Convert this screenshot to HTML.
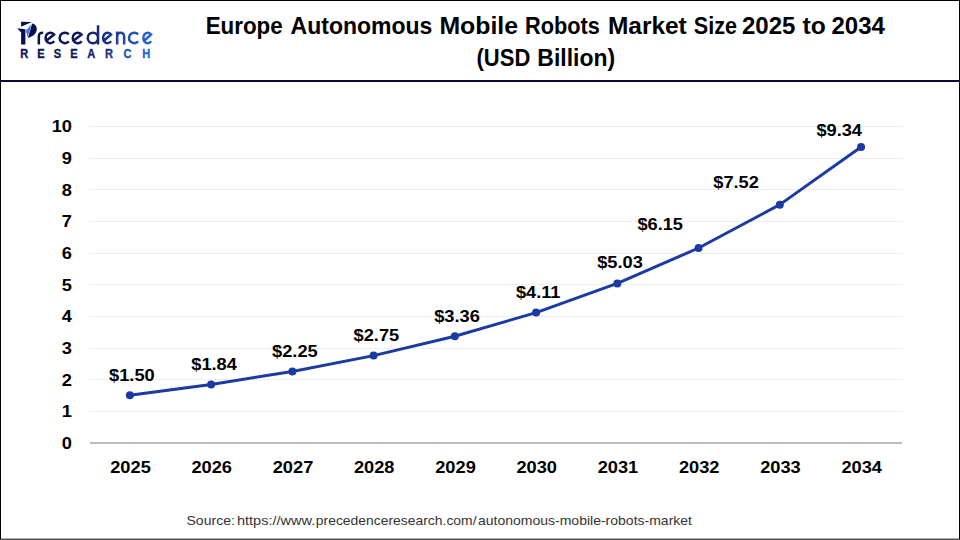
<!DOCTYPE html>
<html><head><meta charset="utf-8">
<style>
html,body{margin:0;padding:0;background:#fff;}
body{width:960px;height:540px;overflow:hidden;position:relative;}
svg{position:absolute;left:0;top:0;}
text{font-family:"Liberation Sans",sans-serif;}
.b{font-weight:bold;font-size:16px;fill:#000;}
.t{font-weight:bold;font-size:23px;fill:#000;}
.s{font-size:12.5px;fill:#333;}
.r{font-weight:bold;font-size:12.6px;}
</style></head><body>
<svg width="960" height="540" viewBox="0 0 960 540">
<rect x="0" y="0" width="960" height="540" fill="#fff"/>

<defs>
<linearGradient id="lg" gradientUnits="userSpaceOnUse" x1="36" y1="0" x2="154" y2="0">
<stop offset="0" stop-color="#0c1152"/><stop offset="0.35" stop-color="#0e165e"/><stop offset="0.6" stop-color="#1a3089"/><stop offset="1" stop-color="#2b6cd8"/>
</linearGradient>
</defs>
<g fill="#0c1050">
<polygon points="21.1,21.8 32.0,21.9 21.1,26.8"/>
<polygon points="17.1,28.2 25.4,29.3 25.4,44.5 21.1,44.5 21.1,32.4"/>
<path d="M32.2,23.4 C38.6,24.6 39.2,35.0 27.8,37.9 Z"/>
</g>
<polygon points="31.9,24.0 25.8,30.6 27.6,37.0" fill="#3b7de2"/>
<g fill="none" stroke="url(#lg)" stroke-width="2.5"><path d="M38.85,44.4 V36.40 C38.85,32.90 40.85,32.65 43.20,32.65"/><path d="M46.33,40.76 L54.12,34.53 A4.85,5.25 0 1 0 54.22,41.13"/><path d="M68.80,34.39 A5.25,5.25 0 1 0 68.80,41.41"/><path d="M73.56,40.76 L81.58,34.53 A5.00,5.25 0 1 0 81.69,41.13"/><path d="M87.75,37.90 A5.15,5.25 0 1 0 98.05,37.90 A5.15,5.25 0 1 0 87.75,37.90 M98.05,25.2 V44.4"/><path d="M103.78,40.76 L111.09,34.53 A4.55,5.25 0 1 0 111.19,41.13"/><path d="M117.15,31.4 V44.4 M117.15,44.4 V36.15 A3.50,3.50 0 0 1 124.15,36.15 V44.4"/><path d="M138.15,34.39 A5.25,5.25 0 1 0 138.15,41.41"/><path d="M144.06,40.76 L151.12,34.53 A4.40,5.25 0 1 0 151.22,41.13"/></g><text transform="translate(24.25,57.9) scale(0.88,1)" text-anchor="middle" class="r" fill="#0e1352" stroke="#0e1352" stroke-width="0.35">R</text><text transform="translate(41,57.9) scale(0.88,1)" text-anchor="middle" class="r" fill="#0e1352" stroke="#0e1352" stroke-width="0.35">E</text><text transform="translate(57.5,57.9) scale(0.88,1)" text-anchor="middle" class="r" fill="#0e1352" stroke="#0e1352" stroke-width="0.35">S</text><text transform="translate(73.9,57.9) scale(0.88,1)" text-anchor="middle" class="r" fill="#101860" stroke="#101860" stroke-width="0.35">E</text><text transform="translate(91.2,57.9) scale(0.88,1)" text-anchor="middle" class="r" fill="#14206e" stroke="#14206e" stroke-width="0.35">A</text><text transform="translate(108.95,57.9) scale(0.88,1)" text-anchor="middle" class="r" fill="#1a3388" stroke="#1a3388" stroke-width="0.35">R</text><text transform="translate(127.4,57.9) scale(0.88,1)" text-anchor="middle" class="r" fill="#2152b8" stroke="#2152b8" stroke-width="0.35">C</text><text transform="translate(146.2,57.9) scale(0.88,1)" text-anchor="middle" class="r" fill="#2763d2" stroke="#2763d2" stroke-width="0.35">H</text>
<text transform="translate(205.63,34) scale(0.9731,1)" class="t">Europe</text>
<text transform="translate(290.60,34) scale(0.9993,1)" class="t">Autonomous</text>
<text transform="translate(439.42,34) scale(1.0803,1)" class="t">Mobile</text>
<text transform="translate(525.06,34) scale(0.9449,1)" class="t">Robots</text>
<text transform="translate(607.94,34) scale(1.0630,1)" class="t">Market</text>
<text transform="translate(693.76,34) scale(0.9386,1)" class="t">Size</text>
<text transform="translate(741.95,34) scale(1.0460,1)" class="t">2025</text>
<text transform="translate(802.50,34) scale(1.0714,1)" class="t">to</text>
<text transform="translate(831.46,34) scale(1.0440,1)" class="t">2034</text>
<text transform="translate(476.54,65.6) scale(0.9574,1)" class="t">(USD</text>
<text transform="translate(537.30,65.6) scale(0.9987,1)" class="t">Billion)</text>
<text transform="translate(186.48,525) scale(1.1244,1)" class="s">Source:</text>
<text transform="translate(236.94,525) scale(1.1621,1)" class="s">https://www.</text>
<text transform="translate(315.79,525) scale(1.1125,1)" class="s">precedenceresearch.com/</text>
<text transform="translate(478.00,525) scale(1.1209,1)" class="s">autonomous-mobile-robots-market</text>
<rect x="0" y="80" width="960" height="2" fill="#0a0a35"/>
<line x1="89" y1="411.5" x2="903" y2="411.5" stroke="#ededed" stroke-width="1"/>
<line x1="89" y1="379.5" x2="903" y2="379.5" stroke="#ededed" stroke-width="1"/>
<line x1="89" y1="348.5" x2="903" y2="348.5" stroke="#ededed" stroke-width="1"/>
<line x1="89" y1="316.5" x2="903" y2="316.5" stroke="#ededed" stroke-width="1"/>
<line x1="89" y1="284.5" x2="903" y2="284.5" stroke="#ededed" stroke-width="1"/>
<line x1="89" y1="253.5" x2="903" y2="253.5" stroke="#ededed" stroke-width="1"/>
<line x1="89" y1="221.5" x2="903" y2="221.5" stroke="#ededed" stroke-width="1"/>
<line x1="89" y1="189.5" x2="903" y2="189.5" stroke="#ededed" stroke-width="1"/>
<line x1="89" y1="158.5" x2="903" y2="158.5" stroke="#ededed" stroke-width="1"/>
<line x1="89" y1="126.5" x2="903" y2="126.5" stroke="#ededed" stroke-width="1"/>
<line x1="90" y1="443" x2="902" y2="443" stroke="#bcbcbc" stroke-width="2"/>
<text transform="translate(72,448.8) scale(1.14,1)" text-anchor="end" class="b">0</text>
<text transform="translate(72,417.2) scale(1.14,1)" text-anchor="end" class="b">1</text>
<text transform="translate(72,385.5) scale(1.14,1)" text-anchor="end" class="b">2</text>
<text transform="translate(72,353.9) scale(1.14,1)" text-anchor="end" class="b">3</text>
<text transform="translate(72,322.2) scale(1.14,1)" text-anchor="end" class="b">4</text>
<text transform="translate(72,290.6) scale(1.14,1)" text-anchor="end" class="b">5</text>
<text transform="translate(72,258.9) scale(1.14,1)" text-anchor="end" class="b">6</text>
<text transform="translate(72,227.3) scale(1.14,1)" text-anchor="end" class="b">7</text>
<text transform="translate(72,195.6) scale(1.14,1)" text-anchor="end" class="b">8</text>
<text transform="translate(72,164.0) scale(1.14,1)" text-anchor="end" class="b">9</text>
<text transform="translate(72,132.3) scale(1.14,1)" text-anchor="end" class="b">10</text>
<text transform="translate(130.5,472.8) scale(1.14,1)" text-anchor="middle" class="b">2025</text>
<text transform="translate(211.7,472.8) scale(1.14,1)" text-anchor="middle" class="b">2026</text>
<text transform="translate(293.0,472.8) scale(1.14,1)" text-anchor="middle" class="b">2027</text>
<text transform="translate(374.2,472.8) scale(1.14,1)" text-anchor="middle" class="b">2028</text>
<text transform="translate(455.5,472.8) scale(1.14,1)" text-anchor="middle" class="b">2029</text>
<text transform="translate(536.7,472.8) scale(1.14,1)" text-anchor="middle" class="b">2030</text>
<text transform="translate(617.9,472.8) scale(1.14,1)" text-anchor="middle" class="b">2031</text>
<text transform="translate(699.2,472.8) scale(1.14,1)" text-anchor="middle" class="b">2032</text>
<text transform="translate(780.4,472.8) scale(1.14,1)" text-anchor="middle" class="b">2033</text>
<text transform="translate(861.7,472.8) scale(1.14,1)" text-anchor="middle" class="b">2034</text>
<polyline points="129.90,395.17 211.14,384.41 292.38,371.44 373.62,355.61 454.86,336.31 536.10,312.57 617.34,283.45 698.58,248.00 779.82,204.64 861.06,147.04" fill="none" stroke="#1b3aa2" stroke-width="3" stroke-linejoin="round"/>
<circle cx="129.90" cy="395.17" r="4" fill="#1b3aa2"/>
<circle cx="211.14" cy="384.41" r="4" fill="#1b3aa2"/>
<circle cx="292.38" cy="371.44" r="4" fill="#1b3aa2"/>
<circle cx="373.62" cy="355.61" r="4" fill="#1b3aa2"/>
<circle cx="454.86" cy="336.31" r="4" fill="#1b3aa2"/>
<circle cx="536.10" cy="312.57" r="4" fill="#1b3aa2"/>
<circle cx="617.34" cy="283.45" r="4" fill="#1b3aa2"/>
<circle cx="698.58" cy="248.00" r="4" fill="#1b3aa2"/>
<circle cx="779.82" cy="204.64" r="4" fill="#1b3aa2"/>
<circle cx="861.06" cy="147.04" r="4" fill="#1b3aa2"/>
<text transform="translate(131.9,380.8) scale(1.14,1)" text-anchor="middle" class="b">$1.50</text>
<text transform="translate(214.1,369.8) scale(1.14,1)" text-anchor="middle" class="b">$1.84</text>
<text transform="translate(294.9,356.9) scale(1.14,1)" text-anchor="middle" class="b">$2.25</text>
<text transform="translate(376.4,340.6) scale(1.14,1)" text-anchor="middle" class="b">$2.75</text>
<text transform="translate(457.0,321.7) scale(1.14,1)" text-anchor="middle" class="b">$3.36</text>
<text transform="translate(538.2,297.5) scale(1.14,1)" text-anchor="middle" class="b">$4.11</text>
<text transform="translate(620.0,268.1) scale(1.14,1)" text-anchor="middle" class="b">$5.03</text>
<text transform="translate(660.2,229.8) scale(1.14,1)" text-anchor="middle" class="b">$6.15</text>
<text transform="translate(736.1,187.6) scale(1.14,1)" text-anchor="middle" class="b">$7.52</text>
<text transform="translate(839.2,135.7) scale(1.14,1)" text-anchor="middle" class="b">$9.34</text>
<rect x="0.5" y="0.5" width="959" height="538.7" fill="none" stroke="#000" stroke-width="1"/>
</svg>
</body></html>
